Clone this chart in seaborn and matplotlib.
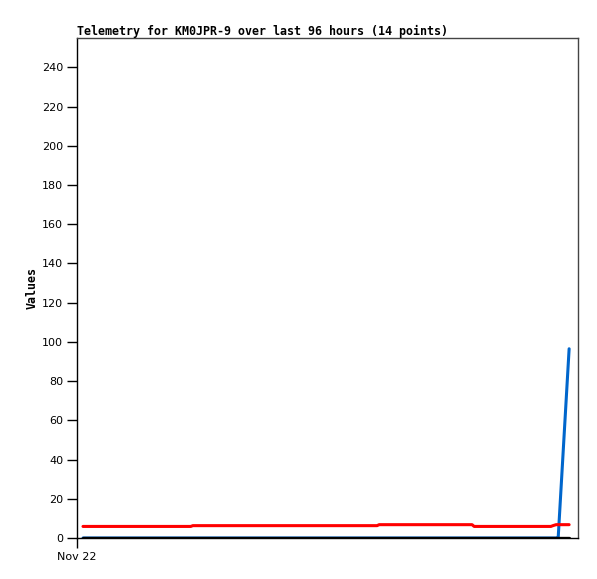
import pandas as pd
import matplotlib
matplotlib.use("Agg")
import matplotlib.pyplot as plt
import seaborn as sns

# Telemetry samples (hours since Nov 22 00:00)
hours = [1.15, 21.8, 22.2, 42.7, 57.5, 57.9, 75.7, 76.1, 84.9, 90.8, 91.2, 91.8, 92.2, 94.3]
red_vals = [5.9, 5.9, 6.3, 6.3, 6.3, 6.8, 6.8, 5.9, 5.9, 5.9, 6.3, 6.8, 6.8, 6.8]
blue_vals = [0, 0, 0, 0, 0, 0, 0, 0, 0, 0, 0, 0, 0, 96.5]
black_vals = [0] * 14
yticks = list(range(0, 241, 20))
xtick_labels = ["Nov 22"]

df = pd.DataFrame({"hours": hours, "red": red_vals, "blue": blue_vals, "black": black_vals})

sns.set_style("white")
plt.rcParams["font.family"] = ["DejaVu Sans"]
plt.rcParams["text.color"] = "black"
plt.rcParams["axes.labelcolor"] = "black"
plt.rcParams["xtick.color"] = "black"
plt.rcParams["ytick.color"] = "black"

fig = plt.figure(figsize=(5.97, 5.79), dpi=100)
ax = fig.add_axes([77 / 597, 41 / 579, 501 / 597, 500 / 579])

sns.lineplot(data=df, x="hours", y="blue", ax=ax, color="#0066CC", linewidth=2.2)
sns.lineplot(data=df, x="hours", y="red", ax=ax, color="#FF0000", linewidth=2.2)
sns.lineplot(data=df, x="hours", y="black", ax=ax, color="black", linewidth=2.4)

ax.set_xlim(0, 96)
ax.set_ylim(0, 255)
ax.set_yticks(yticks)
ax.set_yticklabels([str(v) for v in yticks], fontsize=8)
ax.set_xticks([0])
ax.set_xticklabels(xtick_labels, fontsize=8)
ax.tick_params(axis="both", direction="out", length=7, width=1, color="black", pad=3, left=True, bottom=True)

for side in ["left", "bottom"]:
    ax.spines[side].set_color("black")
    ax.spines[side].set_linewidth(1)
for side in ["top", "right"]:
    ax.spines[side].set_color("#444444")
    ax.spines[side].set_linewidth(1)

ax.set_xlabel("")
ax.set_ylabel("Values", fontsize=8.4, fontweight="bold", family="DejaVu Sans Mono", labelpad=2)
ax.set_title("Telemetry for KM0JPR-9 over last 96 hours (14 points)", loc="left",
             fontsize=8.4, fontweight="bold", family="DejaVu Sans Mono", pad=2)

fig.savefig("out.png", dpi=100, facecolor="white")
